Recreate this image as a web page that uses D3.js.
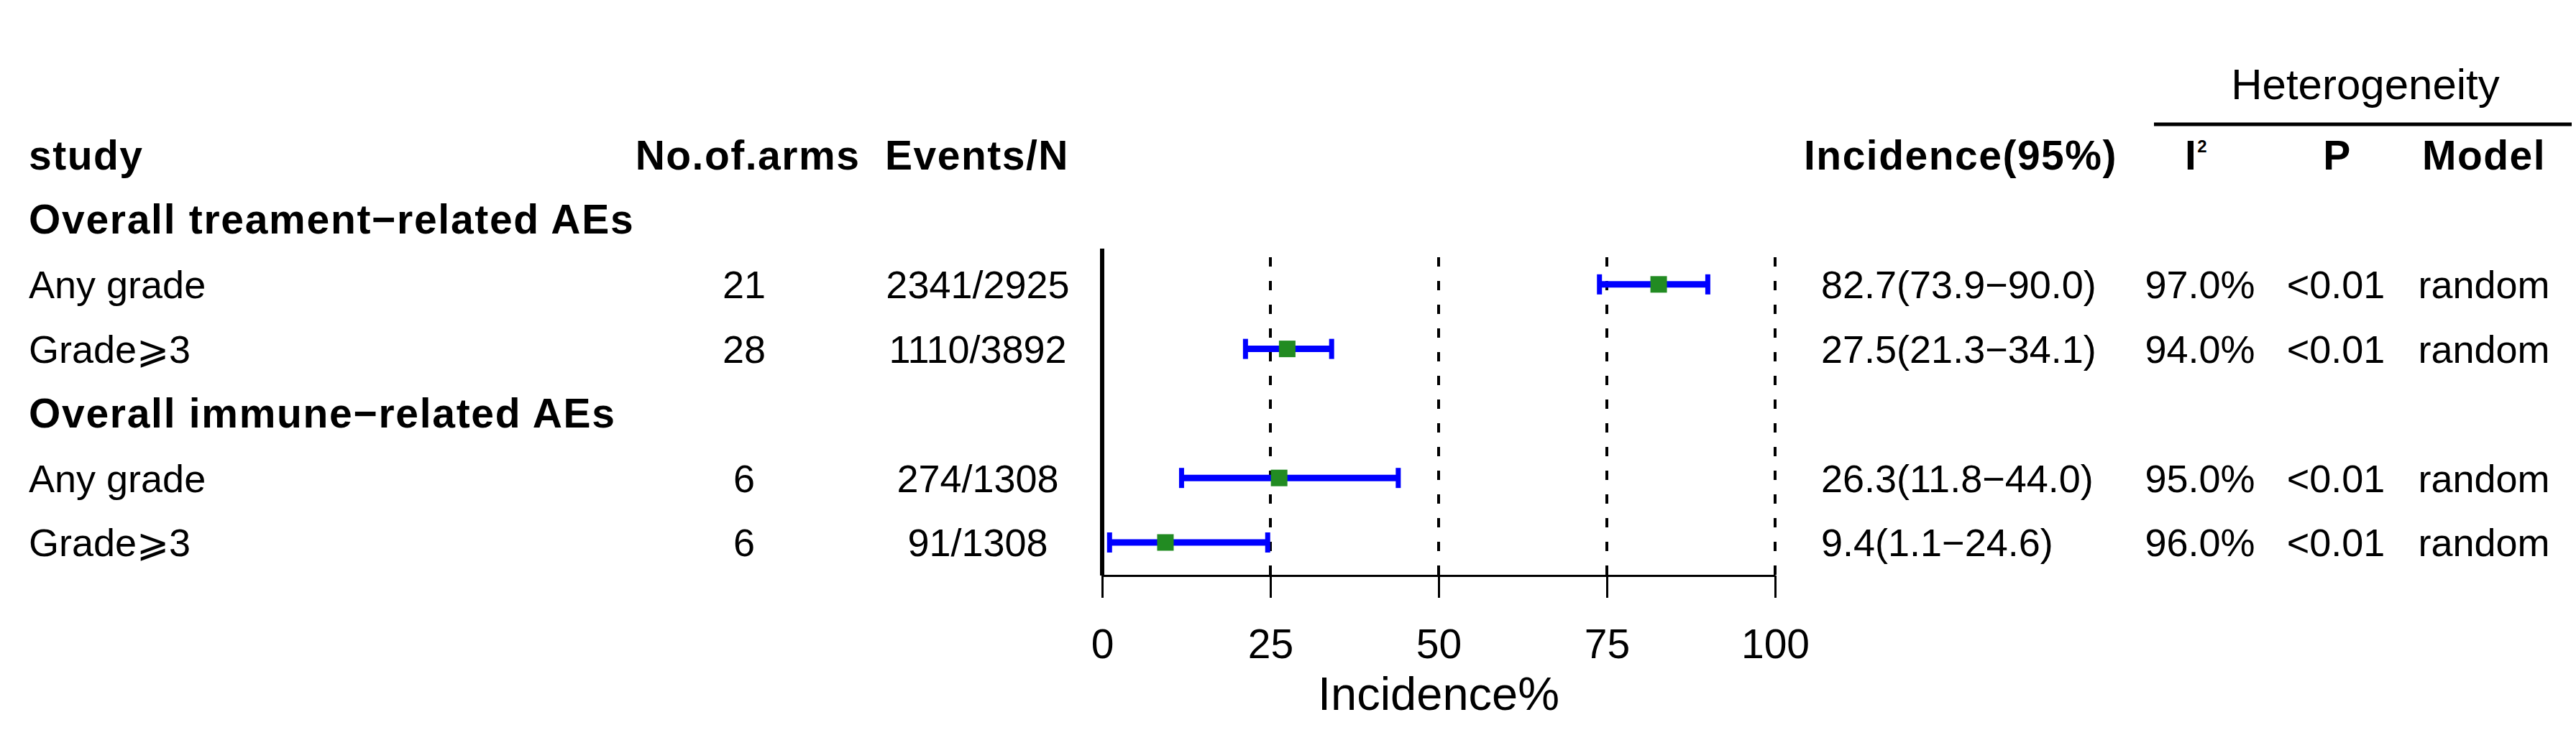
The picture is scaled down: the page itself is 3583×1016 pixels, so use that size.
<!DOCTYPE html>
<html>
<head>
<meta charset="utf-8">
<script src="https://cdn.jsdelivr.net/npm/d3@7"></script>
<style>
  body { margin: 0; background: #fff; }
  svg text { font-family: "Liberation Sans", Arial, sans-serif; fill: #000; }
</style>
</head>
<body>
<div id="chart"></div>
<script>
var width = 3583, height = 1016;

// rows of the table, top to bottom
var rowLabels = ["Overall treament\u2212related AEs", "Any grade", "Grade\u2A7E3",
                 "Overall immune\u2212related AEs", "Any grade", "Grade\u2A7E3"];
var isGroup = [true, false, false, true, false, false];
var arms = ["", "21", "28", "", "6", "6"];
var events = ["", "2341/2925", "1110/3892", "", "274/1308", "91/1308"];
var est = [null, 82.7, 27.5, null, 26.3, 9.4];
var lower = [null, 73.9, 21.3, null, 11.8, 1.1];
var upper = [null, 90.0, 34.1, null, 44.0, 24.6];
var i2 = ["", "97.0%", "94.0%", "", "95.0%", "96.0%"];
var pval = ["", "<0.01", "<0.01", "", "<0.01", "<0.01"];
var model = ["", "random", "random", "", "random", "random"];
var xTicks = [0, 25, 50, 75, 100];

var svg = d3.select("#chart")
  .append("svg")
  .attr("width", width)
  .attr("height", height);

var xScale = d3.scaleLinear()
  .domain([0, 100])
  .range([1533, 2469]);

// row index -> vertical centre
var yScale = d3.scaleLinear()
  .domain([0, 5])
  .range([306, 755]);

var fs = 54, fsBold = 57;
var base = fs * 0.36; // centre -> baseline offset

// column headers
var header = svg.append("g").attr("class", "header")
  .style("font-weight", "bold")
  .style("font-size", fsBold + "px")
  .style("letter-spacing", "1.5px");

header.append("text").attr("x", 40).attr("y", yScale(-1) + base).text("study");
header.append("text").attr("x", 1040).attr("y", yScale(-1) + base)
  .style("text-anchor", "middle").text("No.of.arms");
header.append("text").attr("x", 1359).attr("y", yScale(-1) + base)
  .style("text-anchor", "middle").text("Events/N");
header.append("text").attr("x", 2509).attr("y", yScale(-1) + base).text("Incidence(95%)");
var iHead = header.append("text").attr("x", 3055).attr("y", yScale(-1) + base)
  .style("text-anchor", "middle");
iHead.append("tspan").text("I");
iHead.append("tspan").attr("dy", -24).style("font-size", "24px").text("2");
header.append("text").attr("x", 3251).attr("y", yScale(-1) + base)
  .style("text-anchor", "middle").text("P");
header.append("text").attr("x", 3455).attr("y", yScale(-1) + base)
  .style("text-anchor", "middle").text("Model");

svg.append("text")
  .attr("x", 3290)
  .attr("y", 138)
  .style("text-anchor", "middle")
  .style("font-size", "60px")
  .text("Heterogeneity");

svg.append("line")
  .attr("x1", 2996).attr("x2", 3577)
  .attr("y1", 173).attr("y2", 173)
  .style("stroke", "#000")
  .style("stroke-width", 5);

// table body
var rows = svg.append("g").attr("class", "rows")
  .style("font-size", fs + "px")
  .selectAll("g")
  .data(rowLabels.map(function(d, i) { return i; }))
  .enter()
  .append("g");

rows.append("text")
  .attr("x", 40)
  .attr("y", function(i) { return yScale(i) + base; })
  .style("font-weight", function(i) { return isGroup[i] ? "bold" : "normal"; })
  .style("font-size", function(i) { return (isGroup[i] ? fsBold : fs) + "px"; })
  .style("letter-spacing", function(i) { return isGroup[i] ? "1.7px" : "0px"; })
  .text(function(i) { return rowLabels[i]; });

rows.append("text")
  .attr("x", 1035)
  .attr("y", function(i) { return yScale(i) + base; })
  .style("text-anchor", "middle")
  .text(function(i) { return arms[i]; });

rows.append("text")
  .attr("x", 1360)
  .attr("y", function(i) { return yScale(i) + base; })
  .style("text-anchor", "middle")
  .text(function(i) { return events[i]; });

rows.append("text")
  .attr("x", 2533)
  .attr("y", function(i) { return yScale(i) + base; })
  .text(function(i) {
    if (est[i] == null) return "";
    return est[i].toFixed(1) + "(" + lower[i].toFixed(1) + "\u2212" + upper[i].toFixed(1) + ")";
  });

rows.append("text")
  .attr("x", 3060)
  .attr("y", function(i) { return yScale(i) + base; })
  .style("text-anchor", "middle")
  .text(function(i) { return i2[i]; });

rows.append("text")
  .attr("x", 3249)
  .attr("y", function(i) { return yScale(i) + base; })
  .style("text-anchor", "middle")
  .text(function(i) { return pval[i]; });

rows.append("text")
  .attr("x", 3455)
  .attr("y", function(i) { return yScale(i) + base; })
  .style("text-anchor", "middle")
  .text(function(i) { return model[i]; });

// forest panel
var axisY = 801;

svg.append("g")
  .attr("class", "ref-lines")
  .selectAll("line")
  .data(xTicks.filter(function(d) { return d > 0; }))
  .enter()
  .append("line")
  .attr("x1", d => xScale(d)).attr("x2", d => xScale(d))
  .attr("y1", 358).attr("y2", axisY)
  .style("stroke", "#000")
  .style("stroke-width", 4)
  .style("stroke-dasharray", "13,20");

svg.append("line")
  .attr("x1", xScale(0)).attr("x2", xScale(0))
  .attr("y1", 346).attr("y2", axisY)
  .style("stroke", "#000")
  .style("stroke-width", 6);

var xAxis = d3.axisBottom(xScale)
  .tickValues(xTicks)
  .tickSize(31)
  .tickSizeOuter(0)
  .tickPadding(44);

var gx = svg.append("g")
  .attr("transform", `translate(0,${axisY})`)
  .attr("class", "x-axis")
  .call(xAxis);

gx.select(".domain").style("stroke", "#000").style("stroke-width", 3);
gx.selectAll(".tick line").style("stroke", "#000").style("stroke-width", 3);
gx.selectAll(".tick text")
  .style("font-family", "Liberation Sans, Arial, sans-serif")
  .style("font-size", "57px")
  .style("fill", "#000");

svg.append("text")
  .attr("x", (xScale(0) + xScale(100)) / 2)
  .attr("y", 988)
  .style("text-anchor", "middle")
  .style("font-size", "65px")
  .text("Incidence%");

// confidence intervals
var ciIdx = est.map(function(d, i) { return i; }).filter(function(i) { return est[i] != null; });

var ci = svg.append("g").attr("class", "ci")
  .selectAll("g")
  .data(ciIdx)
  .enter()
  .append("g");

ci.append("line")
  .attr("x1", i => xScale(lower[i])).attr("x2", i => xScale(upper[i]))
  .attr("y1", i => yScale(i)).attr("y2", i => yScale(i))
  .style("stroke", "#0000FF")
  .style("stroke-width", 9);

ci.append("line")
  .attr("x1", i => xScale(lower[i])).attr("x2", i => xScale(lower[i]))
  .attr("y1", i => yScale(i) - 14).attr("y2", i => yScale(i) + 14)
  .style("stroke", "#0000FF")
  .style("stroke-width", 7);

ci.append("line")
  .attr("x1", i => xScale(upper[i])).attr("x2", i => xScale(upper[i]))
  .attr("y1", i => yScale(i) - 14).attr("y2", i => yScale(i) + 14)
  .style("stroke", "#0000FF")
  .style("stroke-width", 7);

ci.append("rect")
  .attr("x", i => xScale(est[i]) - 11.5)
  .attr("y", i => yScale(i) - 11.5)
  .attr("width", 23)
  .attr("height", 23)
  .style("fill", "#228B22");
</script>
</body>
</html>
